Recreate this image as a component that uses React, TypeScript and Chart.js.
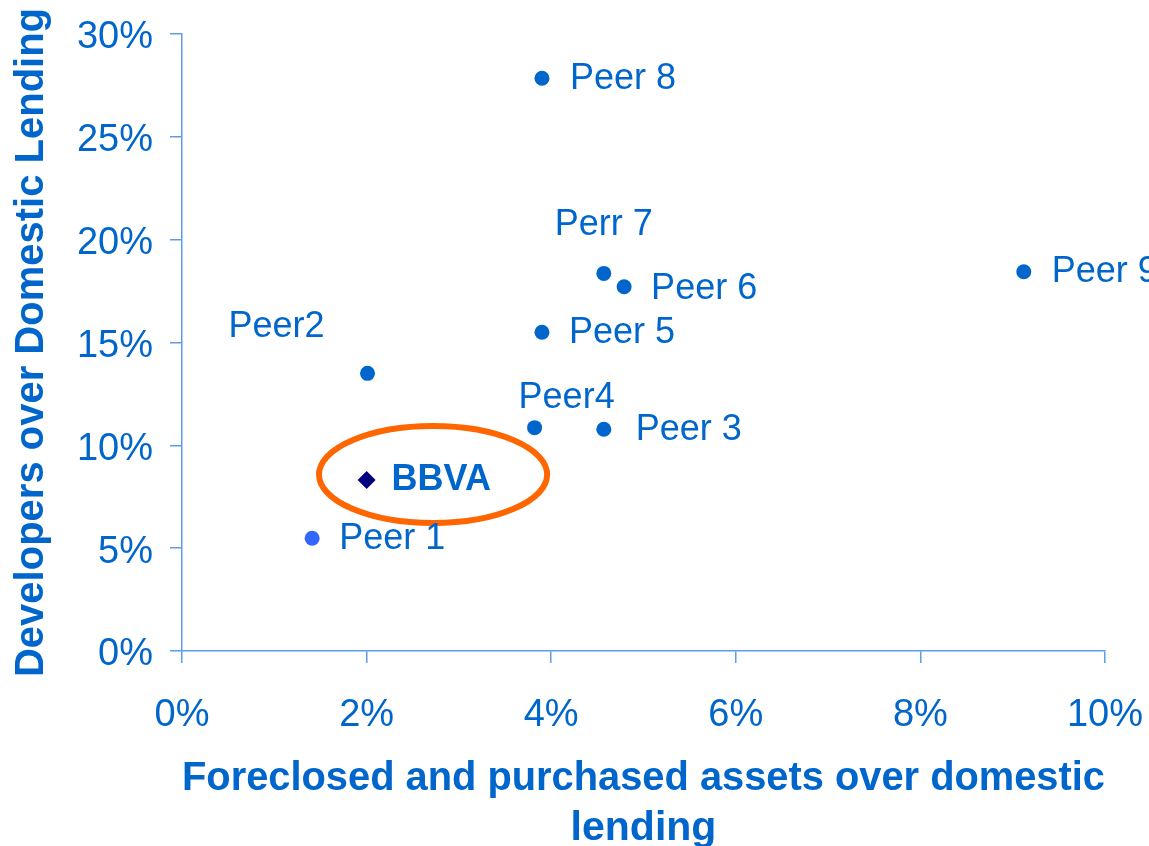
import React, { useEffect, useRef } from 'react';
import { Chart, registerables } from 'chart.js';

Chart.register(...registerables);

// ---- data ----
const peerNames = ['Peer 1', 'Peer2', 'Peer 3', 'Peer4', 'Peer 5', 'Peer 6', 'Perr 7', 'Peer 8', 'Peer 9'];
const peerX = [1.41, 2.01, 4.57, 3.82, 3.9, 4.79, 4.57, 3.9, 9.12];
const peerY = [5.48, 13.5, 10.78, 10.86, 15.5, 17.71, 18.36, 27.85, 18.44];
const bbvaNames = ['BBVA'];
const bbvaX = [2.0];
const bbvaY = [8.31];
const xTickValues = [0, 2, 4, 6, 8, 10];
const yTickValues = [0, 5, 10, 15, 20, 25, 30];
const xTitle = ['Foreclosed and purchased assets over domestic', 'lending'];
const yTitle = 'Developers over Domestic Lending';

// ---- label placement (pixels, relative to each point) ----
const peerLabelOffsets = [
  [27, 1], [-139, -46], [32, 1], [-16, -30], [27, 1], [27, 2], [-49, -48], [28, 1], [28, 0],
];
const bbvaLabelOffsets = [[25, 0]];

// highlight ellipse in data units
const ellipse = { cx: 2.72, cy: 8.58, rx: 1.236, ry: 2.36 };

const BLUE = '#0066CC';
const LIGHT_BLUE = '#3366FF';
const NAVY = '#000080';
const AXIS = '#5D9CE6';
const ORANGE = '#FF6600';
const FONT = '"Liberation Sans", Arial, Helvetica, sans-serif';

const labelsPlugin = {
  id: 'pointLabels',
  afterDatasetsDraw(chart: any) {
    const ctx = chart.ctx;
    const { x: xs, y: ys } = chart.scales;
    // ellipse
    ctx.save();
    const cx = xs.getPixelForValue(ellipse.cx);
    const cy = ys.getPixelForValue(ellipse.cy);
    const rx = Math.abs(xs.getPixelForValue(ellipse.cx + ellipse.rx) - cx);
    const ry = Math.abs(ys.getPixelForValue(ellipse.cy + ellipse.ry) - cy);
    ctx.beginPath();
    ctx.ellipse(cx, cy, rx, ry, 0, 0, Math.PI * 2);
    ctx.strokeStyle = ORANGE;
    ctx.lineWidth = 6;
    ctx.stroke();
    ctx.restore();

    const drawSet = (dsIndex: number, names: string[], offsets: number[][], font: string) => {
      const meta = chart.getDatasetMeta(dsIndex);
      ctx.save();
      ctx.font = font;
      ctx.fillStyle = BLUE;
      ctx.textAlign = 'left';
      ctx.textBaseline = 'middle';
      meta.data.forEach((el: any, i: number) => {
        const [dx, dy] = offsets[i];
        ctx.fillText(names[i], el.x + dx, el.y + dy);
      });
      ctx.restore();
    };
    drawSet(0, peerNames, peerLabelOffsets, `36px ${FONT}`);
    drawSet(1, bbvaNames, bbvaLabelOffsets, `bold 36px ${FONT}`);
  },
};

export default function App() {
  const ref = useRef<HTMLCanvasElement | null>(null);

  useEffect(() => {
    if (!ref.current) return;
    const chart = new Chart(ref.current, {
      type: 'scatter',
      data: {
        datasets: [
          {
            label: 'Peers',
            data: peerX.map((x, i) => ({ x, y: peerY[i] })),
            backgroundColor: peerNames.map((_, i) => (i === 0 ? LIGHT_BLUE : BLUE)),
            borderColor: peerNames.map((_, i) => (i === 0 ? LIGHT_BLUE : BLUE)),
            pointRadius: 7.5,
            pointStyle: 'circle',
            borderWidth: 0,
          },
          {
            label: 'BBVA',
            data: bbvaX.map((x, i) => ({ x, y: bbvaY[i] })),
            backgroundColor: NAVY,
            borderColor: NAVY,
            pointRadius: 9,
            pointStyle: 'rectRot',
            borderWidth: 0,
          },
        ],
      },
      options: {
        responsive: false,
        animation: false,
        events: [],
        layout: { padding: { top: 34, right: 44, left: 0, bottom: 0 } },
        plugins: {
          legend: { display: false },
          tooltip: { enabled: false },
        },
        scales: {
          x: {
            type: 'linear',
            min: 0,
            max: 10,
            afterBuildTicks: (s: any) => {
              s.ticks = xTickValues.map((v) => ({ value: v }));
            },
            afterFit: (s: any) => {
              s.height = 195;
              s.paddingLeft = 0;
              s.paddingRight = 0;
            },
            grid: { drawOnChartArea: false, drawTicks: true, tickLength: 12, color: AXIS, lineWidth: 1.5 },
            border: { display: true, color: AXIS, width: 1.5 },
            ticks: {
              color: BLUE,
              padding: 30,
              maxRotation: 0,
              autoSkip: false,
              font: { family: FONT, size: 38 },
              callback: (v: any) => `${v}%`,
            },
            title: {
              display: true,
              text: xTitle,
              color: BLUE,
              font: { family: FONT, size: 41, weight: 'bold', lineHeight: 1.22 },
              padding: { top: 0, bottom: -8 },
            },
          },
          y: {
            type: 'linear',
            min: 0,
            max: 30,
            afterBuildTicks: (s: any) => {
              s.ticks = yTickValues.map((v) => ({ value: v }));
            },
            afterFit: (s: any) => {
              s.width = 182;
              s.paddingTop = 0;
              s.paddingBottom = 0;
            },
            grid: { drawOnChartArea: false, drawTicks: true, tickLength: 12, color: AXIS, lineWidth: 1.5 },
            border: { display: true, color: AXIS, width: 1.5 },
            ticks: {
              color: BLUE,
              padding: 17,
              labelOffset: 4,
              autoSkip: false,
              font: { family: FONT, size: 38 },
              callback: (v: any) => `${v}%`,
            },
            title: {
              display: true,
              text: yTitle,
              color: BLUE,
              font: { family: FONT, size: 40, weight: 'bold', lineHeight: 1.2 },
              padding: { top: 8, bottom: 0 },
            },
          },
        },
      },
      plugins: [labelsPlugin],
    } as any);
    return () => chart.destroy();
  }, []);

  return (
    <div style={{ position: 'fixed', left: 0, top: 0, width: 1149, height: 846, background: '#fff' }}>
      <canvas ref={ref} width={1149} height={846} style={{ display: 'block' }} />
    </div>
  );
}
